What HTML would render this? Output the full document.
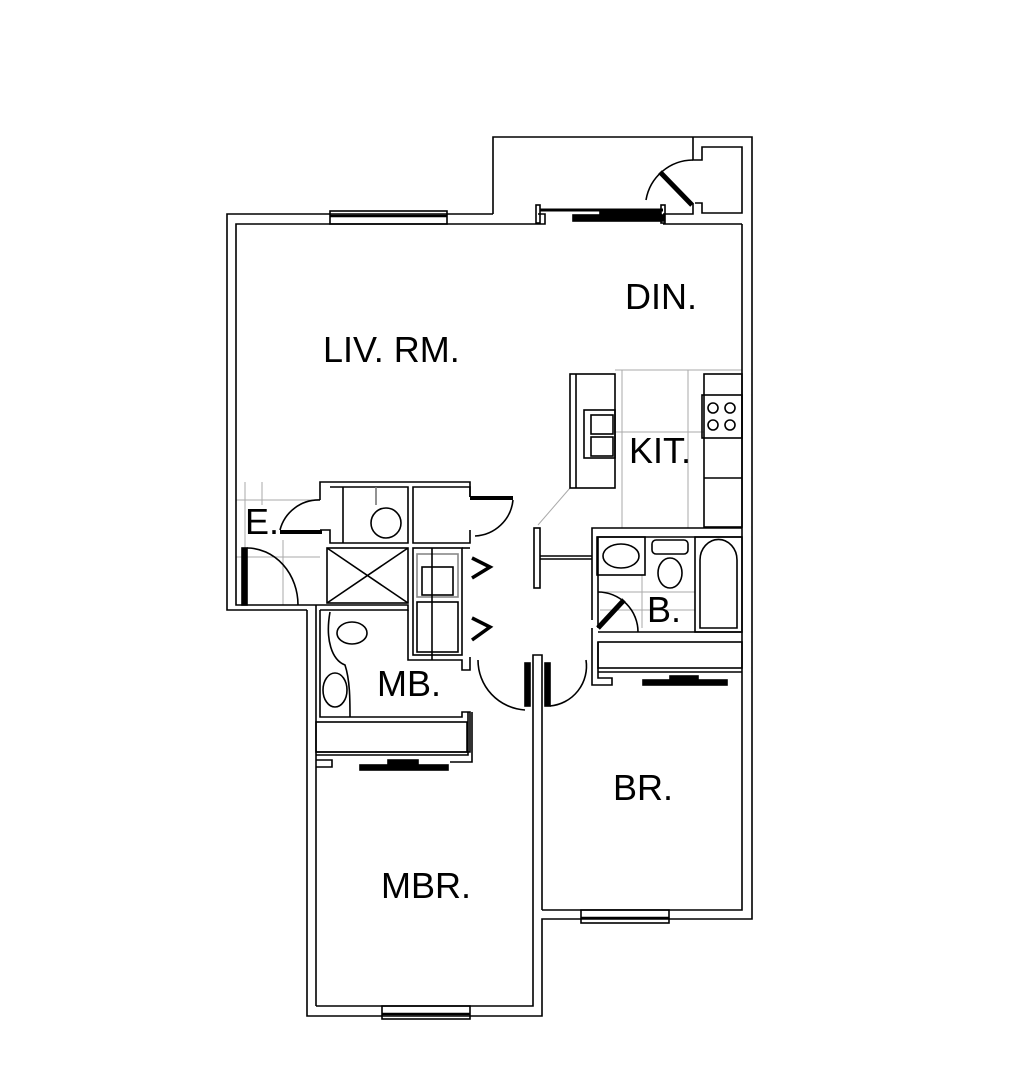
<!DOCTYPE html>
<html><head><meta charset="utf-8"><style>
html,body{margin:0;padding:0;background:#fff;}
svg{display:block}
text{font-family:"Liberation Sans",Arial,sans-serif;font-size:36px;fill:#000}
</style></head><body>
<svg width="1034" height="1080" viewBox="0 0 1034 1080" xmlns="http://www.w3.org/2000/svg">
<g fill="none" stroke="#000" stroke-width="1.6">
<g stroke="#aaa" stroke-width="1">
<line x1="245" y1="482" x2="245" y2="605"/><line x1="262" y1="482" x2="262" y2="505"/><line x1="283" y1="540" x2="283" y2="605"/>
<line x1="236" y1="500" x2="320" y2="500"/><line x1="236" y1="557" x2="320" y2="557"/>
<line x1="622" y1="370" x2="622" y2="528"/><line x1="688" y1="370" x2="688" y2="528"/>
<line x1="615" y1="370" x2="742" y2="370"/><line x1="615" y1="432" x2="704" y2="432"/>
<line x1="570" y1="488" x2="538" y2="525"/>
<line x1="642" y1="575" x2="642" y2="628"/><line x1="600" y1="610" x2="695" y2="610"/><line x1="600" y1="592" x2="695" y2="592"/>
</g>
<polyline points="307,610 227,610 227,214 493,214"/>
<polyline points="316,605 236,605 236,224 545,224 545,214 538,214"/>
<polyline points="493,214 493,137 752,137 752,919 542,919 542,1016 307,1016 307,610"/>
<polyline points="742,224 742,910 542,910"/>
<polyline points="663,224 742,224"/>
<polyline points="693,137 693,160 702,160 702,147 742,147 742,213 702,213 702,203 695,203"/>
<polyline points="663,214 693,214 693,203"/>
<polyline points="316,1006 533,1006 533,705"/>
<line x1="542" y1="910" x2="542" y2="705"/>
<line x1="316" y1="605" x2="316" y2="1006"/>
<rect x="330" y="211" width="117" height="13"/><line x1="330" y1="216" x2="447" y2="216" stroke-width="2.5"/>
<rect x="382" y="1006" width="88" height="13"/><line x1="382" y1="1014" x2="470" y2="1014" stroke-width="2.5"/>
<rect x="581" y="910" width="88" height="13"/><line x1="581" y1="918" x2="669" y2="918" stroke-width="2.5"/>
<line x1="540" y1="210" x2="663" y2="210" stroke-width="3"/>
<rect x="536" y="205" width="4" height="18"/><rect x="661" y="205" width="4" height="18"/>
<path d="M646,200 A48,48 0 0 1 693,160"/>
<line x1="660" y1="172" x2="692" y2="205" stroke-width="5"/>
<polyline points="320,500 320,482 470,482 470,497"/>
<polyline points="470,530 470,543 413,543 413,487 470,487 470,497"/>
<polyline points="330,487 408,487 408,543 330,543 330,530 320,530"/>
<line x1="343" y1="487" x2="343" y2="543"/><line x1="376" y1="487" x2="376" y2="505" stroke="#777"/>
<circle cx="386" cy="523" r="15"/>
<path d="M320,500 A40,40 0 0 0 280,530"/>
<line x1="280" y1="532" x2="322" y2="532" stroke-width="4"/>
<line x1="470" y1="498" x2="513" y2="498" stroke-width="4"/>
<path d="M513,500 A40,40 0 0 1 475,536"/>
<rect x="327" y="548" width="81" height="55"/><line x1="327" y1="548" x2="408" y2="603"/><line x1="408" y1="548" x2="327" y2="603"/>
<rect x="413" y="548" width="49" height="107"/><rect x="417" y="554" width="41" height="43" stroke="#888"/><rect x="422" y="567" width="31" height="28"/>
<rect x="417" y="602" width="41" height="50"/><line x1="432" y1="548" x2="432" y2="660"/>
<line x1="462" y1="548" x2="470" y2="548"/>
<polyline points="472,558 490,567 472,578" stroke-width="3.5"/>
<polyline points="472,618 490,627 472,640" stroke-width="3.5"/>
<polyline points="316,605 408,605 408,610 320,610"/>
<polyline points="320,610 320,717 462,717 462,712 470,712 470,752 316,752"/>
<rect x="316" y="722" width="151" height="30"/>
<polyline points="316,755 468,755 468,712"/>
<polyline points="316,760 332,760 332,767 316,767"/>
<polyline points="450,762 472,762 472,712"/>
<ellipse cx="352" cy="633" rx="15" ry="11"/>
<ellipse cx="335" cy="690" rx="12" ry="17"/>
<path d="M330,612 C325,640 332,660 345,665 C350,680 350,700 350,717"/>
<polyline points="408,610 408,660 462,660 462,670 470,670 470,657"/>
<rect x="360" y="765" width="88" height="5" fill="#000"/><rect x="388" y="760" width="30" height="7" fill="#000"/>
<path d="M478,660 A50,50 0 0 0 525,710"/>
<rect x="525" y="663" width="5" height="43" fill="#000"/>
<rect x="545" y="663" width="5" height="43" fill="#000"/>
<path d="M550,706 A40,40 0 0 0 586,660"/>
<polyline points="533,705 533,655 542,655 542,705"/>
<rect x="570" y="374" width="45" height="114"/><line x1="576" y1="374" x2="576" y2="488"/>
<rect x="584" y="410" width="31" height="48"/><rect x="591" y="415" width="22" height="19"/><rect x="591" y="437" width="22" height="19"/>
<rect x="704" y="374" width="38" height="153"/><rect x="702" y="395" width="40" height="43"/>
<circle cx="713" cy="408" r="5"/><circle cx="730" cy="408" r="5"/><circle cx="713" cy="425" r="5"/><circle cx="730" cy="425" r="5"/>
<line x1="704" y1="478" x2="742" y2="478"/>
<rect x="534" y="528" width="6" height="60"/><line x1="540" y1="556" x2="592" y2="556"/><line x1="540" y1="559" x2="592" y2="559"/>
<polyline points="592,620 592,528 742,528"/>
<polyline points="598,628 598,537 742,537"/>
<line x1="598" y1="632" x2="742" y2="632"/>
<rect x="597" y="537" width="48" height="38"/><ellipse cx="621" cy="556" rx="18" ry="12"/>
<rect x="652" y="540" width="36" height="14" rx="4"/><ellipse cx="670" cy="573" rx="12" ry="15"/>
<rect x="695" y="537" width="47" height="95"/><path d="M700,628 L700,560 A18,20 0 0 1 737,560 L737,628 Z"/>
<line x1="598" y1="628" x2="624" y2="600" stroke-width="5"/>
<path d="M598,592 A40,40 0 0 1 638,632"/>
<polyline points="592,628 592,685 612,685 612,678 598,678 598,642"/>
<rect x="598" y="642" width="144" height="26"/>
<line x1="598" y1="672" x2="742" y2="672"/>
<rect x="643" y="680" width="84" height="5" fill="#000"/><rect x="670" y="676" width="28" height="7" fill="#000"/>
<rect x="573" y="215" width="91" height="6" fill="#000"/><rect x="600" y="212" width="60" height="6" fill="#000"/>
<rect x="242" y="548" width="5" height="57" fill="#000"/>
<path d="M247,548 A51,57 0 0 1 298,605"/>
</g>
<text x="323" y="362">LIV. RM.</text>
<text x="625" y="309">DIN.</text>
<text x="629" y="463">KIT.</text>
<text x="245" y="534">E.</text>
<text x="647" y="622">B.</text>
<text x="377" y="696">MB.</text>
<text x="613" y="800">BR.</text>
<text x="381" y="898">MBR.</text>
</svg>
</body></html>
